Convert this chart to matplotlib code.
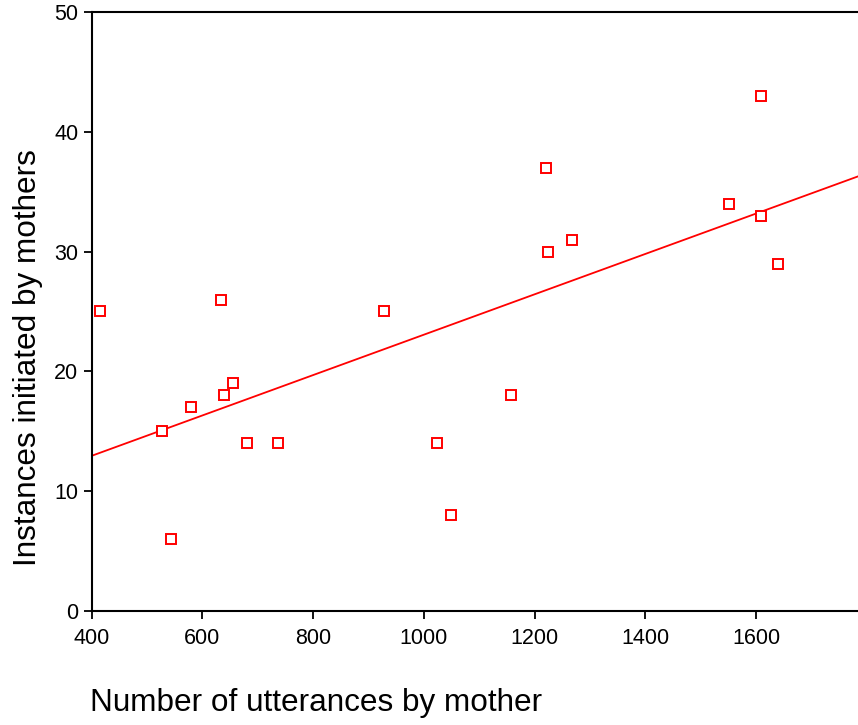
import numpy as np
import matplotlib
matplotlib.use('Agg')
import matplotlib.pyplot as plt

# utterances by mother vs. instances initiated by mothers
utterances = [415, 527, 544, 579, 633, 640, 655, 680, 737, 928,
              1024, 1049, 1157, 1221, 1225, 1268, 1551, 1608, 1608, 1640]
instances = [25, 15, 6, 17, 26, 18, 19, 14, 14, 25,
             14, 8, 18, 37, 30, 31, 34, 43, 33, 29]
xticks = [400, 600, 800, 1000, 1200, 1400, 1600]
yticks = [0, 10, 20, 30, 40, 50]

plt.rcParams['font.family'] = ['Liberation Sans', 'DejaVu Sans']

fig = plt.figure(figsize=(8.58, 7.25), dpi=100)
ax = fig.add_axes([91.5 / 858, 114 / 725, 1 - 91.5 / 858, 599 / 725])

x = np.array(utterances, dtype=float)
y = np.array(instances, dtype=float)
ax.plot(x, y, 's', ms=6.5, mfc='white', mec='#ff0000', mew=1.4, zorder=3)

slope, icept = np.polyfit(x, y, 1)
xl = np.array([400, 1784])
ax.plot(xl, icept + slope * xl, color='#ff0000', lw=1.3, zorder=2)

ax.set_xlim(400, 1784)
ax.set_ylim(0, 50)
ax.set_xticks(xticks)
ax.set_yticks(yticks)
ax.tick_params(labelsize=15.5, direction='out', length=6, width=1.3, colors='black')
ax.tick_params(axis='x', pad=6)
for s in ['left', 'top', 'bottom']:
    ax.spines[s].set_linewidth(1.5)
ax.spines['right'].set_visible(False)

fig.text(90 / 858, 1 - 703 / 725, 'Number of utterances by mother',
         fontsize=22.7, ha='left', va='center')
fig.text(28 / 858, 1 - 358 / 725, 'Instances initiated by mothers',
         fontsize=22.7, rotation=90, ha='center', va='center')

fig.savefig('out.png', dpi=100)
